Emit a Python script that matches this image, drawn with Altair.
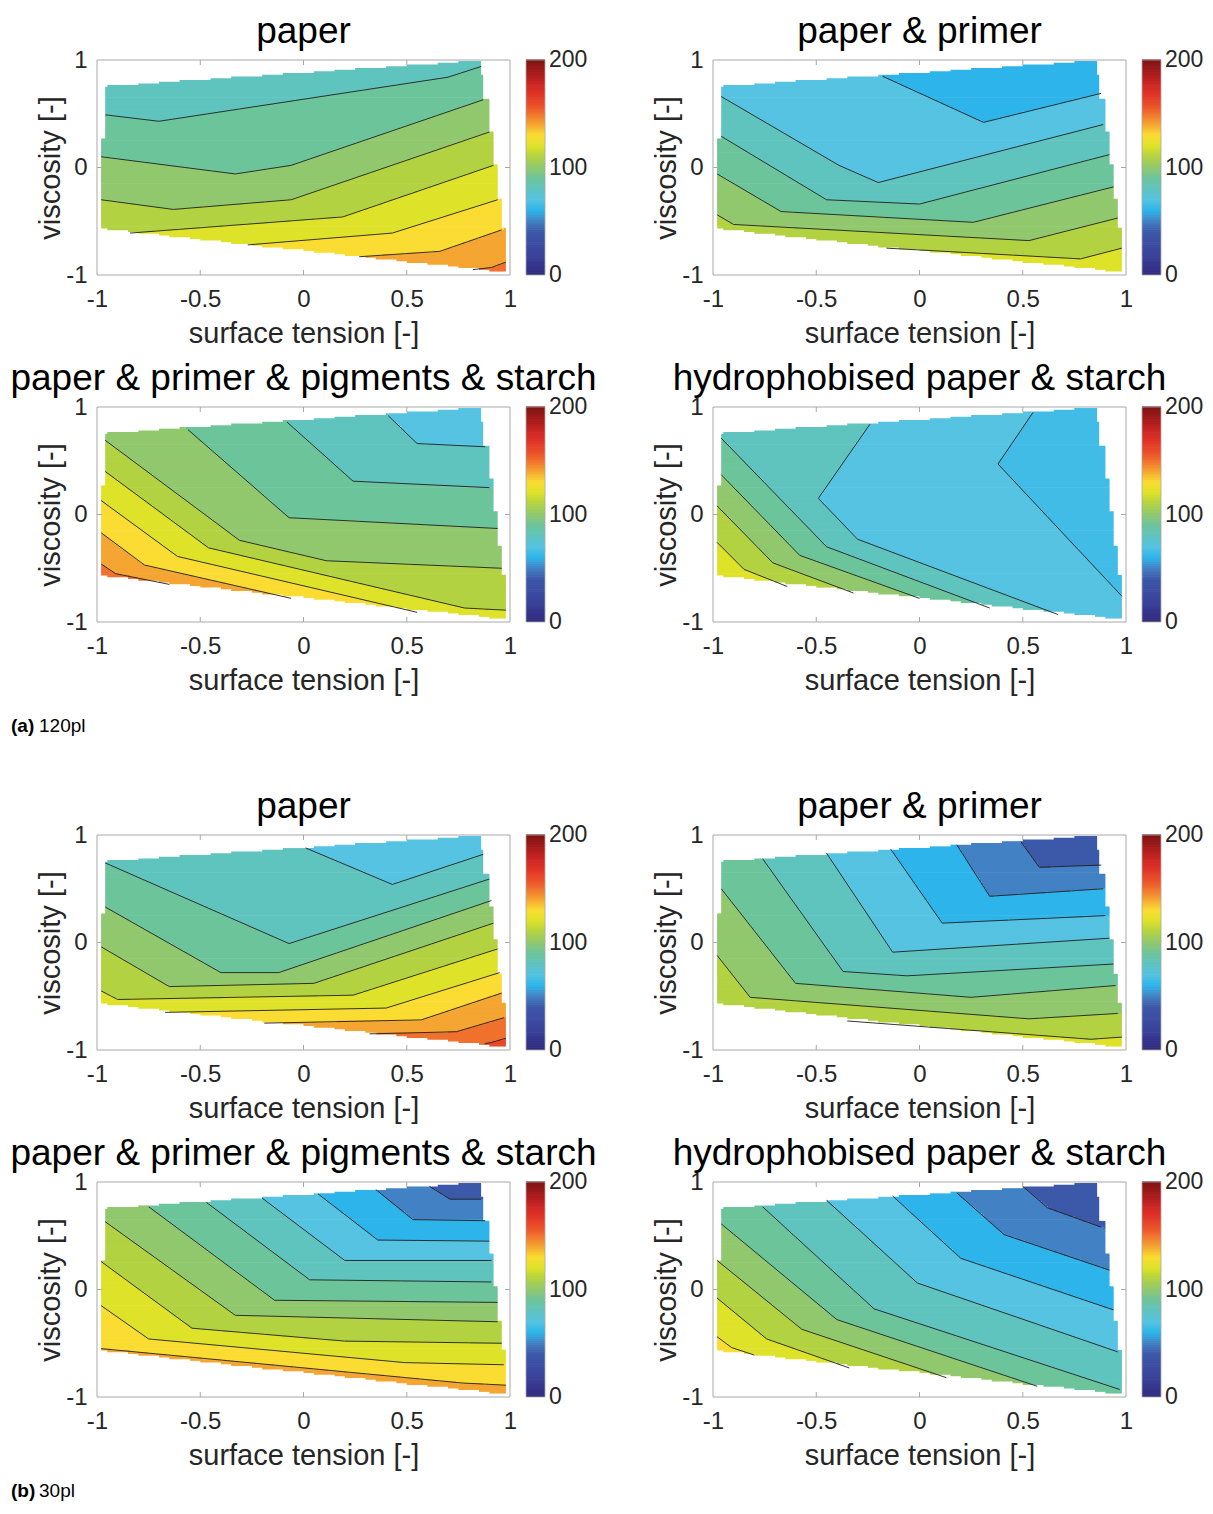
import numpy as np
import pandas as pd
import altair as alt

alt.data_transformers.disable_max_rows()

FONT = "Liberation Sans"
TXT = "#262626"
FRAME = "#a8a8a8"
LINE = "#1f1f1f"

W, H = 413, 215
CB_W_MID, CB_W_END, CB_BAR = 171, 56, 19

# ---------------- colour map (value -> colour) ----------------
CMAP_LEVELS = [0, 10, 20, 30, 40, 50, 60, 70, 80, 90, 100,
               110, 120, 130, 140, 150, 160, 170, 180, 190, 200]
CMAP_COLORS = ["#302a7d", "#36378e", "#3a449b", "#3c4ea3", "#3c58a8", "#4282c4",
               "#2db4eb", "#55c3e1", "#5fc3be", "#6cc49b", "#91c86e", "#b2d241",
               "#dee228", "#fadc32", "#f5a532", "#f0702d", "#e84828", "#de3026",
               "#c32323", "#a01919", "#7d1414"]
CB_VALUES = [0, 100, 200]

# ---------------- design region (normalised units) ----------------
TOP_X = [-0.96, 0.86]
TOP_Y = [0.75, 0.99]
BOT_X = [-0.98, 0.98]
BOT_Y = [-0.57, -0.975]
RIGHT_BREAKS = [0.86, 0.64, 0.33, 0.02, -0.29, -0.57]
RIGHT_X = [0.856, 0.872, 0.897, 0.921, 0.937, 0.958, 0.977]
LEFT_BREAK = 0.27
LEFT_X = [-0.96, -0.978]

X_TICKS = [-1, -0.5, 0, 0.5, 1]
Y_TICKS = [-1, 0, 1]
X_INNER = [-0.5, 0, 0.5]
Y_INNER = [0]

TITLES = ["paper", "paper & primer", "paper & primer & pigments & starch",
          "hydrophobised paper & starch"]
GROUPS = [("(a)", "120pl"), ("(b)", "30pl")]

# ---------------- contour lines ----------------
A1_LEVELS = [90, 100, 110, 120, 130, 140, 150]
A1_X = [[-0.96, -0.70, 0.70, 0.86], [-0.98, -0.33, -0.06, 0.87], [-0.98, -0.63, -0.06, 0.90],
        [-0.84, 0.19, 0.92], [-0.27, 0.43, 0.94], [0.27, 0.66, 0.96], [0.82, 0.91, 0.98]]
A1_Y = [[0.49, 0.43, 0.84, 0.94], [0.10, -0.06, 0.02, 0.63], [-0.30, -0.39, -0.30, 0.33],
        [-0.61, -0.46, 0.02], [-0.72, -0.61, -0.30], [-0.83, -0.78, -0.58], [-0.95, -0.93, -0.88]]
A1_LOW, A1_BASE = (-0.5, 0.7), 80

A2_LEVELS = [70, 80, 90, 100, 110, 120]
A2_X = [[-0.18, 0.31, 0.88], [-0.96, -0.39, -0.20, 0.89], [-0.96, -0.45, 0.00, 0.92],
        [-0.98, -0.67, 0.26, 0.94], [-0.98, -0.90, 0.53, 0.96], [-0.16, 0.78, 0.98]]
A2_Y = [[0.85, 0.42, 0.69], [0.66, 0.02, -0.14, 0.40], [0.29, -0.30, -0.34, 0.12],
        [-0.06, -0.41, -0.51, -0.18], [-0.44, -0.53, -0.68, -0.47], [-0.75, -0.85, -0.75]]
A2_LOW, A2_BASE = (0.6, 0.85), 60

A3_LEVELS = [80, 90, 100, 110, 120, 130, 140, 150]
A3_X = [[0.41, 0.55, 0.88], [-0.08, 0.24, 0.90], [-0.56, -0.07, 0.94], [-0.96, -0.31, 0.11, 0.96],
        [-0.96, -0.46, 0.78, 0.98], [-0.98, -0.61, 0.55], [-0.98, -0.77, -0.06], [-0.98, -0.91, -0.65]]
A3_Y = [[0.92, 0.66, 0.63], [0.86, 0.31, 0.25], [0.79, -0.03, -0.13], [0.69, -0.24, -0.43, -0.50],
        [0.40, -0.31, -0.87, -0.89], [0.13, -0.39, -0.91], [-0.17, -0.47, -0.78], [-0.46, -0.55, -0.65]]
A3_LOW, A3_BASE = (0.75, 0.85), 70

A4_LEVELS = [70, 80, 90, 100, 110, 120]
A4_X = [[0.55, 0.38, 0.98], [-0.24, -0.49, -0.30, 0.67], [-0.96, -0.45, 0.34],
        [-0.96, -0.58, 0.00], [-0.98, -0.71, -0.32], [-0.98, -0.85, -0.64]]
A4_Y = [[0.95, 0.47, -0.76], [0.84, 0.15, -0.23, -0.93], [0.71, -0.30, -0.87],
        [0.37, -0.38, -0.78], [0.08, -0.45, -0.73], [-0.26, -0.51, -0.67]]
A4_LOW, A4_BASE = (0.8, 0.6), 65

B1_LEVELS = [80, 90, 100, 110, 120, 130, 140, 150, 160]
B1_X = [[0.01, 0.43, 0.87], [-0.96, -0.07, 0.90], [-0.96, -0.40, -0.12, 0.91],
        [-0.98, -0.65, 0.05, 0.92], [-0.98, -0.90, 0.24, 0.94], [-0.67, 0.40, 0.95],
        [-0.19, 0.57, 0.96], [0.32, 0.74, 0.97], [0.88, 0.91, 0.98]]
B1_Y = [[0.88, 0.54, 0.82], [0.74, -0.01, 0.59], [0.33, -0.28, -0.28, 0.39],
        [-0.04, -0.41, -0.38, 0.18], [-0.45, -0.53, -0.49, -0.06], [-0.65, -0.61, -0.28],
        [-0.75, -0.72, -0.47], [-0.85, -0.83, -0.70], [-0.94, -0.93, -0.89]]
B1_LOW, B1_BASE = (0.6, 0.85), 70

B2_LEVELS = [50, 60, 70, 80, 90, 100, 110, 120]
B2_X = [[0.49, 0.58, 0.88], [0.18, 0.34, 0.89], [-0.14, 0.11, 0.90], [-0.45, -0.13, 0.92],
        [-0.76, -0.37, -0.06, 0.94], [-0.96, -0.60, 0.25, 0.95], [-0.98, -0.82, 0.53, 0.96],
        [-0.35, 0.83, 0.98]]
B2_Y = [[0.94, 0.70, 0.72], [0.91, 0.43, 0.50], [0.87, 0.18, 0.25], [0.83, -0.09, 0.04],
        [0.78, -0.27, -0.31, -0.20], [0.50, -0.38, -0.51, -0.40], [-0.12, -0.51, -0.71, -0.66],
        [-0.73, -0.90, -0.88]]
B2_LOW, B2_BASE = (0.75, 0.9), 40

B3_LEVELS = [50, 60, 70, 80, 90, 100, 110, 120, 130, 140]
B3_X = [[0.61, 0.71, 0.86], [0.35, 0.53, 0.88], [0.07, 0.36, 0.90], [-0.20, 0.20, 0.91],
        [-0.47, 0.03, 0.91], [-0.75, -0.14, 0.94], [-0.96, -0.33, 0.94],
        [-0.98, -0.54, 0.20, 0.96], [-0.98, -0.75, 0.49, 0.97], [-0.98, 0.77, 0.98]]
B3_Y = [[0.96, 0.84, 0.84], [0.93, 0.65, 0.64], [0.89, 0.46, 0.45], [0.85, 0.27, 0.27],
        [0.81, 0.09, 0.07], [0.77, -0.10, -0.12], [0.63, -0.24, -0.30],
        [0.26, -0.36, -0.48, -0.50], [-0.15, -0.46, -0.68, -0.70], [-0.55, -0.87, -0.89]]
B3_LOW, B3_BASE = (0.78, 0.92), 40

B4_LEVELS = [50, 60, 70, 80, 90, 100, 110, 120, 130]
B4_X = [[0.50, 0.62, 0.88], [0.18, 0.41, 0.92], [-0.13, 0.20, 0.94], [-0.45, -0.01, 0.96],
        [-0.76, -0.22, 0.97], [-0.96, -0.40, 0.57], [-0.98, -0.57, 0.13],
        [-0.98, -0.74, -0.34], [-0.98, -0.91, -0.80]]
B4_Y = [[0.96, 0.76, 0.58], [0.90, 0.51, 0.18], [0.87, 0.29, -0.19], [0.83, 0.06, -0.58],
        [0.77, -0.18, -0.93], [0.61, -0.28, -0.90], [0.27, -0.37, -0.82],
        [-0.08, -0.46, -0.73], [-0.44, -0.54, -0.61]]
B4_LOW, B4_BASE = (0.75, 0.92), 40

PANELS = [
    (A1_LEVELS, A1_X, A1_Y, A1_LOW, A1_BASE),
    (A2_LEVELS, A2_X, A2_Y, A2_LOW, A2_BASE),
    (A3_LEVELS, A3_X, A3_Y, A3_LOW, A3_BASE),
    (A4_LEVELS, A4_X, A4_Y, A4_LOW, A4_BASE),
    (B1_LEVELS, B1_X, B1_Y, B1_LOW, B1_BASE),
    (B2_LEVELS, B2_X, B2_Y, B2_LOW, B2_BASE),
    (B3_LEVELS, B3_X, B3_Y, B3_LOW, B3_BASE),
    (B4_LEVELS, B4_X, B4_Y, B4_LOW, B4_BASE),
]

# ---------------- sampling grid for the filled contours ----------------
NX, NY = 200, 125
xe = np.linspace(-1, 1, NX + 1)
ye = np.linspace(-1, 1, NY + 1)
xc = 0.5 * (xe[:-1] + xe[1:])
yc = 0.5 * (ye[:-1] + ye[1:])
GX, GY = np.meshgrid(xc, yc)

xq = (np.floor((GX + 1) / 0.05) + 0.5) * 0.05 - 1
top = np.interp(xq, TOP_X, TOP_Y)
bot = np.interp(xq, BOT_X, BOT_Y)
ridx = np.sum(GY[..., None] < np.array(RIGHT_BREAKS)[None, None, :], axis=-1)
right = np.array(RIGHT_X)[ridx]
left = np.where(GY > LEFT_BREAK, LEFT_X[0], LEFT_X[1])
INSIDE = (GY <= top) & (GY >= bot) & (GX <= right) & (GX >= left)


def side(px, py, lx, ly):
    lx = np.asarray(lx, float)
    ly = np.asarray(ly, float)
    e0 = np.array([lx[0] - lx[1], ly[0] - ly[1]])
    e0 /= np.hypot(*e0)
    e1 = np.array([lx[-1] - lx[-2], ly[-1] - ly[-2]])
    e1 /= np.hypot(*e1)
    X = np.concatenate([[lx[0] + 3 * e0[0]], lx, [lx[-1] + 3 * e1[0]]])
    Y = np.concatenate([[ly[0] + 3 * e0[1]], ly, [ly[-1] + 3 * e1[1]]])
    ax, ay = X[:-1], Y[:-1]
    dx, dy = np.diff(X), np.diff(Y)
    L2 = dx * dx + dy * dy
    rx = px[:, None] - ax[None, :]
    ry = py[:, None] - ay[None, :]
    t = np.clip((rx * dx + ry * dy) / L2, 0, 1)
    qx = rx - t * dx
    qy = ry - t * dy
    k = np.argmin(qx * qx + qy * qy, axis=1)
    idx = np.arange(len(px))
    return np.sign(dx[k] * ry[idx, k] - dy[k] * rx[idx, k])


def band_table(levels, lxs, lys, low, base):
    px, py = GX.ravel(), GY.ravel()
    lev = np.full(px.shape, float(base))
    for L, lx, ly in zip(levels, lxs, lys):
        s = side(px, py, lx, ly)
        s0 = side(np.array([low[0]]), np.array([low[1]]), lx, ly)[0]
        lev = np.where(s != s0, np.maximum(lev, L), lev)
    lev = lev.reshape(GX.shape)
    rows = []
    ov = 0.4 * (ye[1] - ye[0])
    for j in range(NY):
        m, lv = INSIDE[j], lev[j]
        i = 0
        while i < NX:
            if not m[i]:
                i += 1
                continue
            k = i
            while k + 1 < NX and m[k + 1] and lv[k + 1] == lv[i]:
                k += 1
            rows.append((xe[i], xe[k + 1], ye[j], ye[j + 1] + ov, lv[i]))
            i = k + 1
    return pd.DataFrame(rows, columns=["x0", "x1", "y0", "y1", "lev"])


def line_table(lxs, lys):
    recs = []
    for lid, (lx, ly) in enumerate(zip(lxs, lys)):
        for k, (a, b) in enumerate(zip(lx, ly)):
            recs.append({"lid": lid, "k": k, "x": a, "y": b})
    return pd.DataFrame(recs)


XS = alt.Scale(domain=[-1, 1], nice=False, zero=False)
YS = alt.Scale(domain=[-1, 1], nice=False, zero=False)
CSCALE = alt.Scale(domain=CMAP_LEVELS, range=CMAP_COLORS, interpolate="rgb")

XAXIS = alt.Axis(title="surface tension [-]", values=X_TICKS, labelExpr="toString(datum.value)",
                 labelFlush=False, domain=False, ticks=False, tickSize=0, grid=False,
                 labelFont=FONT, labelFontSize=24, labelColor=TXT, labelPadding=12,
                 titleFont=FONT, titleFontSize=29, titleFontWeight="normal", titleColor=TXT,
                 titlePadding=8)
YAXIS = alt.Axis(title="viscosity [-]", values=Y_TICKS, labelExpr="toString(datum.value)",
                 labelFlush=False, domain=False, ticks=False, tickSize=0, grid=False,
                 labelFont=FONT, labelFontSize=24, labelColor=TXT, labelPadding=10,
                 titleFont=FONT, titleFontSize=29, titleFontWeight="normal", titleColor=TXT,
                 titlePadding=0)


def xenc(field):
    return alt.X(field, type="quantitative", scale=XS, axis=XAXIS)


def yenc(field):
    return alt.Y(field, type="quantitative", scale=YS, axis=YAXIS)


def contour_panel(title, levels, lxs, lys, low, base):
    fill = alt.Chart(band_table(levels, lxs, lys, low, base)).mark_rect(strokeWidth=0).encode(
        x=xenc("x0"), x2="x1:Q", y=yenc("y0"), y2="y1:Q",
        color=alt.Color("lev:Q", scale=CSCALE, legend=None))
    cont = alt.Chart(line_table(lxs, lys)).mark_line(color=LINE, strokeWidth=0.9).encode(
        x=xenc("x"), y=yenc("y"), detail="lid:N", order="k:Q")
    xt = pd.DataFrame({"x": X_INNER})
    yt = pd.DataFrame({"y": Y_INNER})
    t_top = alt.Chart(xt).mark_rule(color=FRAME).encode(
        x=xenc("x"), y=alt.value(0), y2=alt.value(5))
    t_bot = alt.Chart(xt).mark_rule(color=FRAME).encode(
        x=xenc("x"), y=alt.value(H - 5), y2=alt.value(H))
    t_lft = alt.Chart(yt).mark_rule(color=FRAME).encode(
        y=yenc("y"), x=alt.value(0), x2=alt.value(5))
    t_rgt = alt.Chart(yt).mark_rule(color=FRAME).encode(
        y=yenc("y"), x=alt.value(W - 5), x2=alt.value(W))
    border = alt.Chart(pd.DataFrame({"a": [0]})).mark_rect(filled=False, color=FRAME, strokeWidth=1).encode(
        x=alt.value(0), x2=alt.value(W), y=alt.value(0), y2=alt.value(H))
    return alt.layer(fill, cont, t_top, t_bot, t_lft, t_rgt, border).properties(
        width=W, height=H,
        title=alt.Title(title, font=FONT, fontSize=37, fontWeight="normal", color="black",
                        anchor="middle", frame="group", offset=-3))


def colorbar(width):
    v0 = np.arange(0, 200, 2.0)
    df = pd.DataFrame({"v0": v0, "v1": v0 + 2.6, "vm": v0 + 1})
    ysc = alt.Scale(domain=[0, 200], nice=False, zero=False)
    bar = alt.Chart(df).mark_rect(strokeWidth=0).encode(
        x=alt.value(0), x2=alt.value(CB_BAR),
        y=alt.Y("v0:Q", scale=ysc, axis=None), y2="v1:Q",
        color=alt.Color("vm:Q", scale=CSCALE, legend=None))
    lab = alt.Chart(pd.DataFrame({"v0": CB_VALUES, "t": [str(v) for v in CB_VALUES]})).mark_text(
        align="left", baseline="middle", font=FONT, fontSize=23, color=TXT).encode(
        x=alt.value(CB_BAR + 4), y=alt.Y("v0:Q", scale=ysc, axis=None), text="t:N")
    border = alt.Chart(pd.DataFrame({"a": [0]})).mark_rect(filled=False, color=FRAME, strokeWidth=0.8).encode(
        x=alt.value(0), x2=alt.value(CB_BAR), y=alt.value(0), y2=alt.value(H))
    return alt.layer(bar, border, lab).properties(width=width, height=H)


def group_label(tag, name, h, ty):
    a = alt.Chart(pd.DataFrame({"t": [tag]})).mark_text(
        align="left", baseline="middle", font=FONT, fontSize=19, fontWeight="bold", color="black").encode(
        x=alt.value(-86), y=alt.value(ty), text="t:N")
    b = alt.Chart(pd.DataFrame({"t": [name]})).mark_text(
        align="left", baseline="middle", font=FONT, fontSize=19, color="black").encode(
        x=alt.value(-58), y=alt.value(ty), text="t:N")
    return alt.layer(a, b).properties(width=300, height=h)


def grid(panels):
    cells = []
    for n, (t, p) in enumerate(zip(TITLES, panels)):
        cells.append(contour_panel(t, *p))
        cells.append(colorbar(CB_W_MID if n % 2 == 0 else CB_W_END))
    return alt.concat(*cells, columns=4, spacing={"row": 132, "column": 16},
                      bounds="flush", align="each")


gridA = grid(PANELS[:4])
gridB = grid(PANELS[4:])
labA = group_label(GROUPS[0][0], GROUPS[0][1], 93, 31)
labB = group_label(GROUPS[1][0], GROUPS[1][1], 27, 21)

chart = alt.vconcat(gridA, labA, gridB, labB, spacing=0).properties(
    padding={"left": 2, "top": 5, "right": 0, "bottom": 0}
).configure_view(strokeWidth=0)

chart.save("out.html", embed_options={"renderer": "svg", "actions": False})
